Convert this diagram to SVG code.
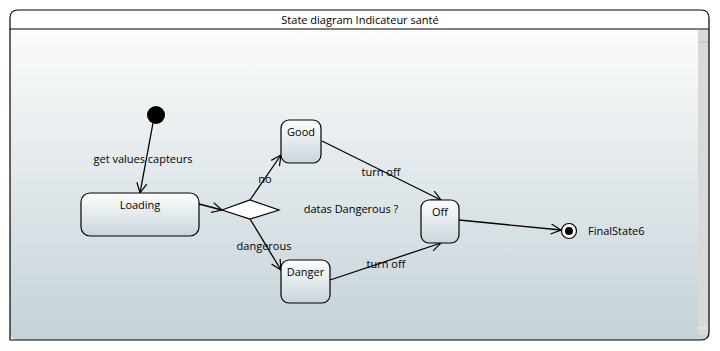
<svg xmlns="http://www.w3.org/2000/svg" width="720" height="351" viewBox="0 0 720 351">
  <style>
    text { font-family: "Open Sans", "Noto Sans", "DejaVu Sans", sans-serif; font-size: 11px; fill: #000; }
    .state { fill: url(#stateFill); stroke: #000; stroke-width: 1.2; }
    .edge { fill: none; stroke: #000; stroke-width: 1.3; }
    .c { text-anchor: middle; }
  </style>
  <defs>
    <linearGradient id="bodyFill" x1="0" y1="0" x2="0" y2="1">
      <stop offset="0" stop-color="#fbfcfc"/>
      <stop offset="1" stop-color="#c5d2d8"/>
    </linearGradient>
    <linearGradient id="stateFill" x1="0" y1="0" x2="0" y2="1">
      <stop offset="0" stop-color="#fdfefe"/>
      <stop offset="1" stop-color="#c9d5db"/>
    </linearGradient>
    <marker id="arrow" viewBox="0 0 12 12" refX="11" refY="6" markerWidth="12" markerHeight="12" markerUnits="userSpaceOnUse" orient="auto">
      <path d="M1,1 L11,6 L1,11" fill="none" stroke="#000" stroke-width="1.2"/>
    </marker>
  </defs>

  <!-- frame -->
  <g id="frame">
    <path d="M10,340 L10,18 Q10,10 18,10 L701,10 Q709,10 709,18 L709,332 Q709,340 701,340 Z" fill="#ffffff"/>
    <path d="M10,29 L709,29 L709,332 Q709,340 701,340 L18,340 Q10,340 10,332 Z" fill="url(#bodyFill)"/>
    <rect x="698" y="30" width="11" height="305" fill="#d9d9d9"/>
    <line x1="698" y1="42" x2="709" y2="42" stroke="#bfbfbf"/>
    <line x1="698" y1="328" x2="709" y2="328" stroke="#f0f0f0"/>
    <path d="M10,340 L10,18 Q10,10 18,10 L701,10 Q709,10 709,18 L709,332 Q709,340 701,340 Z" fill="none" stroke="#000" stroke-width="1.2"/>
    <line x1="10" y1="29" x2="709" y2="29" stroke="#000" stroke-width="1.2"/>
    <text x="360" y="24" class="c">State diagram Indicateur santé</text>
  </g>

  <!-- connectors -->
  <g id="connectors">
    <line class="edge" x1="153" y1="123" x2="140" y2="193" marker-end="url(#arrow)"/>
    <line class="edge" x1="199" y1="204" x2="222" y2="210" marker-end="url(#arrow)"/>
    <line class="edge" x1="250" y1="200" x2="281" y2="155" marker-end="url(#arrow)"/>
    <line class="edge" x1="250" y1="219" x2="281" y2="270" marker-end="url(#arrow)"/>
    <line class="edge" x1="322" y1="141" x2="441" y2="200" marker-end="url(#arrow)"/>
    <line class="edge" x1="330" y1="280" x2="441" y2="243" marker-end="url(#arrow)"/>
    <line class="edge" x1="459" y1="220" x2="561" y2="230" marker-end="url(#arrow)"/>
    <text x="143" y="163" class="c">get values capteurs</text>
    <text x="265" y="183" class="c">no</text>
    <text x="264" y="250" class="c">dangerous</text>
    <text x="381" y="176" class="c">turn off</text>
    <text x="386" y="268" class="c">turn off</text>
    <text x="351" y="213" class="c">datas Dangerous ?</text>
  </g>

  <!-- nodes -->
  <g id="initial">
    <circle cx="156" cy="115" r="9" fill="#000"/>
  </g>
  <g id="loading">
    <rect class="state" x="81" y="193" width="118" height="43" rx="9"/>
    <text x="140" y="209" class="c">Loading</text>
  </g>
  <g id="decision">
    <polygon points="222,210 250,200 279,210 250,219" fill="#fff" stroke="#000" stroke-width="1.2"/>
  </g>
  <g id="good">
    <rect class="state" x="281" y="120" width="40" height="43" rx="8"/>
    <text x="301" y="136" class="c">Good</text>
  </g>
  <g id="danger">
    <rect class="state" x="281" y="260" width="49" height="43" rx="8"/>
    <text x="305.5" y="276" class="c">Danger</text>
  </g>
  <g id="off">
    <rect class="state" x="421" y="200" width="38" height="43" rx="8"/>
    <text x="440" y="216" class="c">Off</text>
  </g>
  <g id="final">
    <circle cx="569" cy="231" r="7.5" fill="#fff" stroke="#000" stroke-width="1.2"/>
    <circle cx="569" cy="231" r="4" fill="#000"/>
    <text x="588" y="235">FinalState6</text>
  </g>
</svg>
